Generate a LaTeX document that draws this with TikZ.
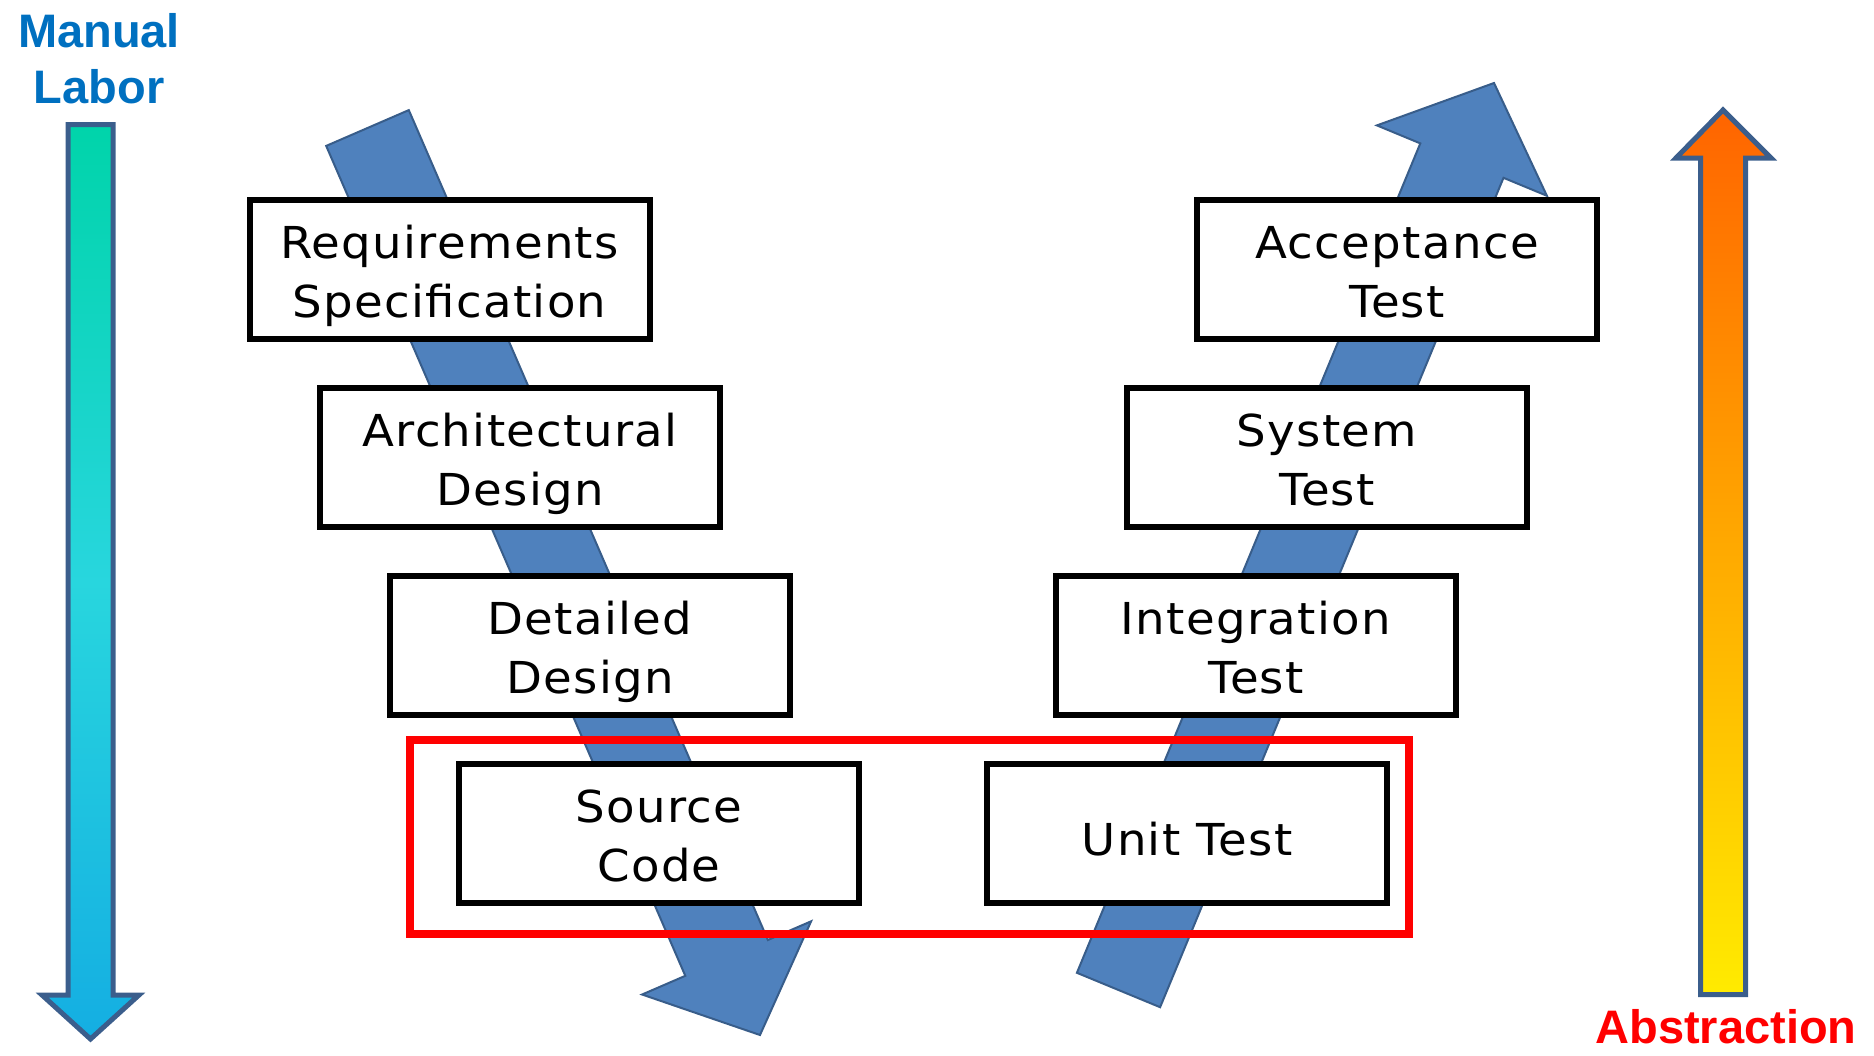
\documentclass[tikz,border=0pt]{standalone}
\usepackage{fontspec}
\setmainfont{DejaVu Sans}
\newfontfamily\boxfont[LetterSpace=3,FakeStretch=1.06]{DejaVu Sans}
\newfontfamily\titlefont{Liberation Sans}
\definecolor{blockblue}{RGB}{79,129,189}
\definecolor{blockedge}{RGB}{56,93,138}
\definecolor{bigedge}{RGB}{59,94,140}
\definecolor{laborblue}{RGB}{0,112,192}
\definecolor{tealtop}{RGB}{0,212,170}
\definecolor{tealmid}{RGB}{40,214,222}
\definecolor{tealbot}{RGB}{20,174,226}
\definecolor{orgtop}{RGB}{255,100,0}
\definecolor{orgmid}{RGB}{255,170,0}
\definecolor{orgbot}{RGB}{255,235,0}
\begin{document}
\begin{tikzpicture}[x=1pt,y=-1pt,
  stage/.style={draw=black, line width=6pt, fill=white, minimum width=400pt,
    minimum height=139pt, inner sep=0pt, align=center,
    text height=100pt, text depth=4pt,
    font=\boxfont\fontsize{44}{59}\selectfont},
  oneline/.style={text height=44pt, text depth=0pt},
  flowarrow/.style={fill=blockblue, draw=blockedge, line width=2pt, line join=miter},
  sidearrow/.style={draw=bigedge, line width=5pt, line join=miter},
  sidelabel/.style={font=\titlefont\bfseries\fontsize{47}{56}\selectfont, align=center, inner sep=0pt}]
\useasboundingbox (0,0) rectangle (1874,1055);

% side arrows
\shadedraw[sidearrow, top color=tealtop, bottom color=tealbot, middle color=tealmid]
  (68,124.5) -- (113,124.5) -- (113,995) -- (139,995) -- (90.5,1039) -- (42,995) -- (68,995) -- cycle;
\shadedraw[sidearrow, top color=orgtop, bottom color=orgbot, middle color=orgmid]
  (1700.5,994.5) -- (1745.5,994.5) -- (1745.5,158) -- (1771,158) -- (1723,110) -- (1676,158) -- (1700.5,158) -- cycle;

\node[sidelabel, text=laborblue, anchor=base] (labor) at (99,103) {Manual\\Labor};
\node[sidelabel, text=red, anchor=base, text depth=0pt] (abstr) at (1726,1043) {Abstraction};

% V flow arrows
\filldraw[flowarrow] (326.2,145.9) -- (408.8,110.1) -- (767.9,940.0) -- (811.1,921.3)
  -- (760,1035) -- (642.1,994.5) -- (685.3,975.8) -- cycle;
\filldraw[flowarrow] (1076.9,972.8) -- (1160.1,1007.2) -- (1503.5,177.8) -- (1546.9,195.8)
  -- (1494,83) -- (1376.9,125.4) -- (1420.3,143.4) -- cycle;

% stages
\node[stage] (req) at (449.5,269) {Requirements\\Specification};
\node[stage] (arch) at (520,457) {Architectural\\Design};
\node[stage] (det) at (590,645) {Detailed\\Design};
\node[stage] (src) at (659,833) {Source\\Code};
\node[stage] (acc) at (1397,269) {Acceptance\\Test};
\node[stage] (sys) at (1327,457) {System\\Test};
\node[stage] (int) at (1256,645) {Integration\\Test};
\node[stage, oneline] (unit) at (1187,833) {Unit Test};

% focus frame
\node[draw=red, line width=8pt, minimum width=999pt, minimum height=194pt, inner sep=0pt] (focus) at (909.5,837) {};
\end{tikzpicture}
\end{document}
